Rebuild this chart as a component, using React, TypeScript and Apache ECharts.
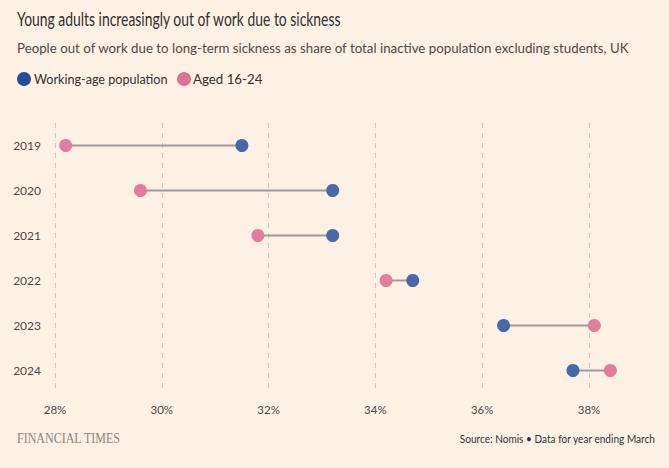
import React, { useEffect, useRef } from "react";
import * as echarts from "echarts";

const years = ["2019", "2020", "2021", "2022", "2023", "2024"];
const workingAge = [31.5, 33.2, 33.2, 34.7, 36.4, 37.7];
const aged1624 = [28.2, 29.6, 31.8, 34.2, 38.1, 38.4];
const xTicks = [28, 30, 32, 34, 36, 38];

const BLUE = "#4769A6";
const PINK = "#E07E9C";
const BG = "#FDF1E6";
const TEXT = "#33302E";
const FONT = "Lato, 'Noto Sans', sans-serif";

export default function App() {
  const ref = useRef<HTMLDivElement>(null);
  useEffect(() => {
    document.body.style.margin = "0";
    const chart = echarts.init(ref.current!, null, { renderer: "svg" });
    const rangeData = years.map((y, i) => [i, Math.min(workingAge[i], aged1624[i]), Math.max(workingAge[i], aged1624[i])]);
    const txt = (text: string, x: number, y: number, size: number, fill: string, sx: number, align = "left", font = FONT) => ({
      type: "text", x, y, scaleX: sx,
      style: { text, fontSize: size, fill, fontFamily: font, align, verticalAlign: "middle" },
    });
    chart.setOption({
      animation: false,
      backgroundColor: BG,
      grid: { left: 55, right: 80, top: 123, height: 270, containLabel: false },
      xAxis: {
        type: "value",
        min: xTicks[0],
        max: xTicks[xTicks.length - 1],
        interval: 2,
        axisLine: { show: false },
        axisTick: { show: false },
        splitLine: { show: true, lineStyle: { type: [5, 5], color: "#CFC6BE", width: 1 } },
        axisLabel: { formatter: (v: number) => `${v}%`, color: "#4D4845", fontSize: 11.5, fontFamily: FONT, margin: 10 },
      },
      yAxis: {
        type: "category",
        data: years,
        inverse: true,
        axisLine: { show: false },
        axisTick: { show: false },
        splitLine: { show: false },
        axisLabel: { color: "#4D4845", fontSize: 12, fontFamily: FONT, margin: 14 },
      },
      graphic: [
        txt("Young adults increasingly out of work due to sickness", 17, 18, 20, TEXT, 0.695),
        txt("People out of work due to long-term sickness as share of total inactive population excluding students, UK", 17, 48, 14, "#4D4845", 0.95),
        { type: "circle", shape: { cx: 24, cy: 79, r: 7 }, style: { fill: "#24509A" } },
        txt("Working-age population", 34, 79, 14, TEXT, 0.9),
        { type: "circle", shape: { cx: 184, cy: 79, r: 7 }, style: { fill: "#DD7296" } },
        txt("Aged 16-24", 193, 79, 14, TEXT, 0.95),
        txt("FINANCIAL TIMES", 17, 438, 15, "#8E8580", 0.8, "left", "'Liberation Serif', 'DejaVu Serif', serif"),
        txt("Source: Nomis • Data for year ending March", 655, 438, 12, TEXT, 0.84, "right"),
      ],
      series: [
        {
          type: "custom",
          data: rangeData,
          clip: false,
          encode: { x: [1, 2], y: 0 },
          renderItem: (params: any, api: any) => {
            const cat = api.value(0);
            const a = api.coord([api.value(1), cat]);
            const b = api.coord([api.value(2), cat]);
            return { type: "line", shape: { x1: a[0], y1: a[1], x2: b[0], y2: b[1] }, style: { stroke: "#9E9A98", lineWidth: 2 } };
          },
          z: 1,
        },
        {
          type: "scatter",
          name: "Working-age population",
          data: workingAge.map((v, i) => [v, i]),
          symbolSize: 13,
          itemStyle: { color: BLUE, opacity: 1 },
          clip: false,
          z: 3,
        },
        {
          type: "scatter",
          name: "Aged 16-24",
          data: aged1624.map((v, i) => [v, i]),
          symbolSize: 13,
          itemStyle: { color: PINK, opacity: 1 },
          clip: false,
          z: 3,
        },
      ],
    });
    return () => chart.dispose();
  }, []);
  return <div ref={ref} style={{ width: 669, height: 468 }} />;
}
